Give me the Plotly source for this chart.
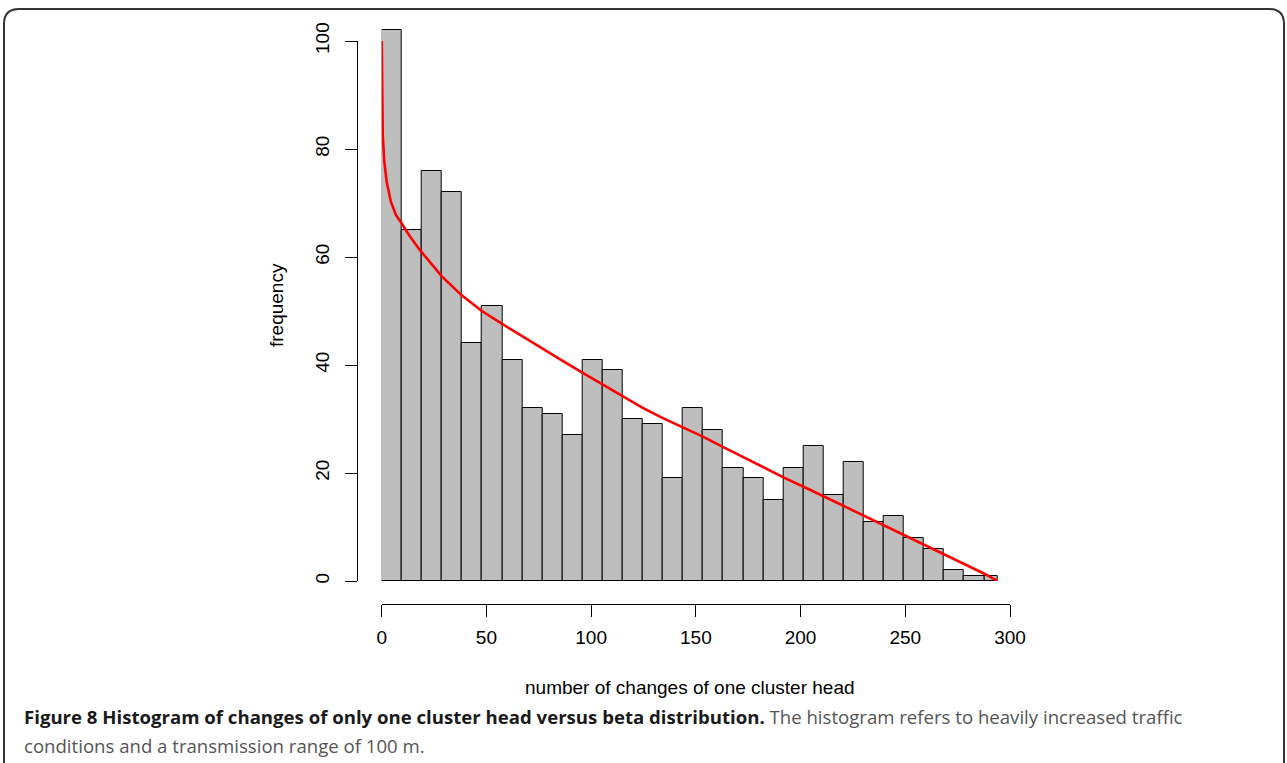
import plotly.graph_objects as go

W, H = 1287, 763

# ---- data ----
bin_edges = [0, 9.59, 19.18, 28.77, 38.36, 47.95, 57.54, 67.13, 76.72, 86.31,
             95.9, 105.49, 115.08, 124.67, 134.26, 143.85, 153.44, 163.03, 172.62,
             182.21, 191.8, 201.39, 210.98, 220.57, 230.16, 239.75, 249.34, 258.93,
             268.52, 278.11, 287.7, 294.1]
counts = [102, 65, 76, 72, 44, 51, 41, 32, 31, 27, 41, 39, 30, 29, 19, 32, 28,
          21, 19, 15, 21, 25, 16, 22, 11, 12, 8, 6, 2, 1, 1]

curve_x = [0.03, 0.15, 0.5, 1.25, 2.4, 4.4, 6.8, 9.7, 13.2, 18.0, 23.5, 28.7,
           38.2, 47.8, 57.5, 67.0, 76.6, 86.2, 95.8, 105.3, 114.9, 124.4, 134.0,
           143.8, 153.6, 163.1, 172.6, 182.2, 191.8, 204.5, 220.6, 239.6, 259.3,
           268.8, 280.0, 288.0, 294.0]
curve_y = [100, 89, 82.6, 77.6, 73.9, 70.2, 67.8, 66.1, 64.0, 61.4, 58.8, 56.4,
           52.9, 50.0, 47.6, 45.3, 43.0, 40.8, 38.6, 36.4, 34.2, 32.1, 30.2,
           28.4, 26.7, 24.8, 22.9, 21.0, 19.2, 16.9, 13.9, 10.4, 6.7,
           5.0, 2.9, 1.3, 0]

x_ticks = [0, 50, 100, 150, 200, 250, 300]
y_ticks = [0, 20, 40, 60, 80, 100]

x_title = "number of changes of one cluster head"
y_title = "frequency"
caption_bold = "Figure 8 Histogram of changes of only one cluster head versus beta distribution."
caption_rest1 = " The histogram refers to heavily increased traffic"
caption_line2 = "conditions and a transmission range of 100 m."

# ---- derived bar geometry ----
centers = [(a + b) / 2 for a, b in zip(bin_edges[:-1], bin_edges[1:])]
widths = [b - a for a, b in zip(bin_edges[:-1], bin_edges[1:])]

def px(x):
    return x / W

def py(y):
    return 1 - y / H

FONT = "Liberation Sans, Arial, sans-serif"
CAPFONT = "Open Sans, sans-serif"

fig = go.Figure()
fig.add_trace(go.Bar(x=centers, y=counts, width=widths,
                     marker=dict(color="#BEBEBE", line=dict(color="black", width=1)),
                     showlegend=False, hoverinfo="skip"))
fig.add_trace(go.Scatter(x=curve_x, y=curve_y, mode="lines",
                         line=dict(color="#FF0000", width=2.6),
                         showlegend=False, hoverinfo="skip", cliponaxis=False))
# dummy trace so that the displayed y axis gets drawn
fig.add_trace(go.Scatter(x=[None], y=[None], xaxis="x", yaxis="y2",
                         showlegend=False, hoverinfo="skip"))

fig.update_layout(
    width=W, height=H, autosize=False,
    margin=dict(l=0, r=0, t=0, b=0, pad=0, autoexpand=False),
    paper_bgcolor="white", plot_bgcolor="rgba(0,0,0,0)",
    bargap=0,
    font=dict(family=FONT, color="black", size=19),
    xaxis=dict(range=[0, 300], domain=[px(381.7), px(1010)],
               anchor="free", position=py(604), automargin=False,
               showgrid=False, zeroline=False,
               showline=True, linecolor="black", linewidth=1,
               ticks="outside", ticklen=12, tickwidth=1, tickcolor="black",
               tickvals=x_ticks, ticktext=[str(v) for v in x_ticks],
               tickfont=dict(size=19, family=FONT), ticklabelstandoff=4),
    yaxis=dict(range=[0, 105], domain=[py(581), py(14)], automargin=False,
               visible=False, showgrid=False, zeroline=False),
    yaxis2=dict(range=[0, 100], domain=[py(581), py(41)],
                anchor="free", position=px(357), side="left", automargin=False,
                showgrid=False, zeroline=False,
                showline=True, linecolor="black", linewidth=1,
                ticks="outside", ticklen=12, tickwidth=1, tickcolor="black",
                tickvals=y_ticks, ticktext=[str(v) for v in y_ticks],
                tickangle=-90, tickfont=dict(size=19, family=FONT),
                ticklabelstandoff=8),
)

annos = [
    dict(text=x_title, x=px(689.5), y=py(687), xref="paper", yref="paper",
         showarrow=False, xanchor="center", yanchor="middle",
         font=dict(size=19, family=FONT, color="black")),
    dict(text=y_title, x=px(277), y=py(305), xref="paper", yref="paper",
         showarrow=False, xanchor="center", yanchor="middle", textangle=-90,
         font=dict(size=19, family=FONT, color="black")),
    dict(text="<b>" + caption_bold + "</b><span style='color:#555555'>" + caption_rest1 + "</span>",
         x=px(22), y=py(716), xref="paper", yref="paper",
         showarrow=False, xanchor="left", yanchor="middle",
         font=dict(size=18.6, family=CAPFONT, color="#1a1a1a")),
    dict(text=caption_line2,
         x=px(22), y=py(745), xref="paper", yref="paper",
         showarrow=False, xanchor="left", yanchor="middle",
         font=dict(size=18.6, family=CAPFONT, color="#555555")),
]
fig.update_layout(annotations=annos)

# rounded figure frame
x0, x1 = px(4), px(1284)
yt, yb = py(9), py(770)
rx, ry = 15 / W, 15 / H
path = (f"M {x0},{yb} L {x0},{yt - ry} Q {x0},{yt} {x0 + rx},{yt} "
        f"L {x1 - rx},{yt} Q {x1},{yt} {x1},{yt - ry} L {x1},{yb}")
fig.add_shape(type="path", path=path, xref="paper", yref="paper",
              line=dict(color="#333333", width=2), layer="above")

fig.write_html(
    "out.html",
    config={"displayModeBar": False},
    post_script="document.body.style.margin='0';document.body.style.overflow='hidden';",
)
